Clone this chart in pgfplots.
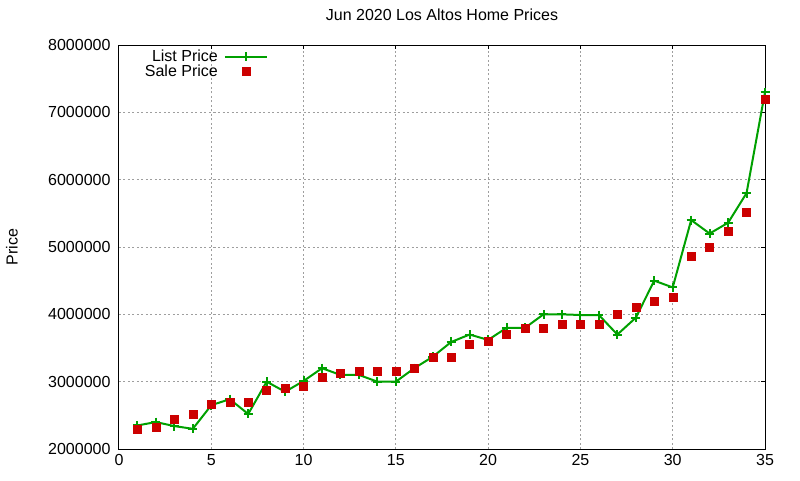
\documentclass[border=0pt]{standalone}
\usepackage{pgfplots}
\pgfplotsset{compat=1.18}
\usepackage{fontspec}
\setmainfont{Liberation Sans}

\definecolor{listc}{RGB}{0,160,0}
\definecolor{salec}{RGB}{204,0,0}

% Jun 2020 Los Altos, prices by sale number
\pgfplotstableread{
n price
1 2350000
2 2400000
3 2340000
4 2300000
5 2650000
6 2740000
7 2520000
8 3000000
9 2850000
10 3010000
11 3200000
12 3100000
13 3100000
14 3000000
15 3000000
16 3200000
17 3370000
18 3590000
19 3700000
20 3620000
21 3800000
22 3800000
23 4000000
24 4000000
25 3990000
26 3990000
27 3700000
28 3950000
29 4500000
30 4400000
31 5400000
32 5200000
33 5360000
34 5800000
35 7300000
}\listtab

\pgfplotstableread{
n price
1 2300000
2 2330000
3 2450000
4 2510000
5 2660000
6 2690000
7 2700000
8 2880000
9 2900000
10 2940000
11 3070000
12 3130000
13 3150000
14 3150000
15 3150000
16 3200000
17 3360000
18 3360000
19 3550000
20 3600000
21 3700000
22 3800000
23 3800000
24 3860000
25 3860000
26 3860000
27 4000000
28 4100000
29 4200000
30 4260000
31 4870000
32 5000000
33 5230000
34 5510000
35 7200000
}\saletab

\begin{document}
\begin{tikzpicture}[font=\fontsize{16}{19}\selectfont]
\useasboundingbox (-119pt,-31pt) rectangle (681pt,449pt);
\begin{axis}[
  scale only axis,
  width=646pt, height=404pt,
  xmin=0, xmax=35, ymin=2000000, ymax=8000000,
  xtick={0,5,...,35},
  ytick={2000000,3000000,...,8000000},
  scaled ticks=false,
  /pgf/number format/assume math mode=true,
  /pgf/number format/1000 sep={},
  /pgf/number format/fixed,
  grid=major,
  grid style={black!38, line width=1pt, dash pattern=on 2pt off 2.5pt},
  axis line style={line width=1pt},
  tick align=inside, major tick length=4pt,
  tick style={black, line width=1pt},
  xtick pos=right, ytick pos=right,
  xticklabel pos=left, yticklabel pos=left,
  xticklabel style={yshift=-2pt},
  yticklabel style={xshift=-5pt},
  clip=false,
  title={Jun 2020 Los Altos Home Prices},
  title style={at={(axis description cs:0.5,1)}, anchor=base, yshift=19pt},
  ylabel={Price},
  ylabel style={at={(axis description cs:-0.1656,0.5)}, anchor=center},
  legend plot pos=right,
  legend cell align=right,
  legend image code/.code={\draw[mark repeat=2,mark phase=2,#1] plot coordinates {(0pt,0pt) (21pt,0pt) (42pt,0pt)};},
  legend style={draw=none, fill=none, inner sep=0pt, row sep=-2pt, column sep=4pt,
    at={(axis description cs:0.2307,0.993)}, anchor=north east},
]
\addplot[listc, line width=2pt, mark=+, mark size=4.5pt, mark options={solid, line width=2pt}] table[x=n, y=price] {\listtab};
\addlegendentry{List Price}
\addplot[only marks, mark=square*, mark size=4pt, mark options={draw=salec, fill=salec, line width=0.4pt}] table[x=n, y=price] {\saletab};
\addlegendentry{Sale Price}
\end{axis}
\end{tikzpicture}
\end{document}
